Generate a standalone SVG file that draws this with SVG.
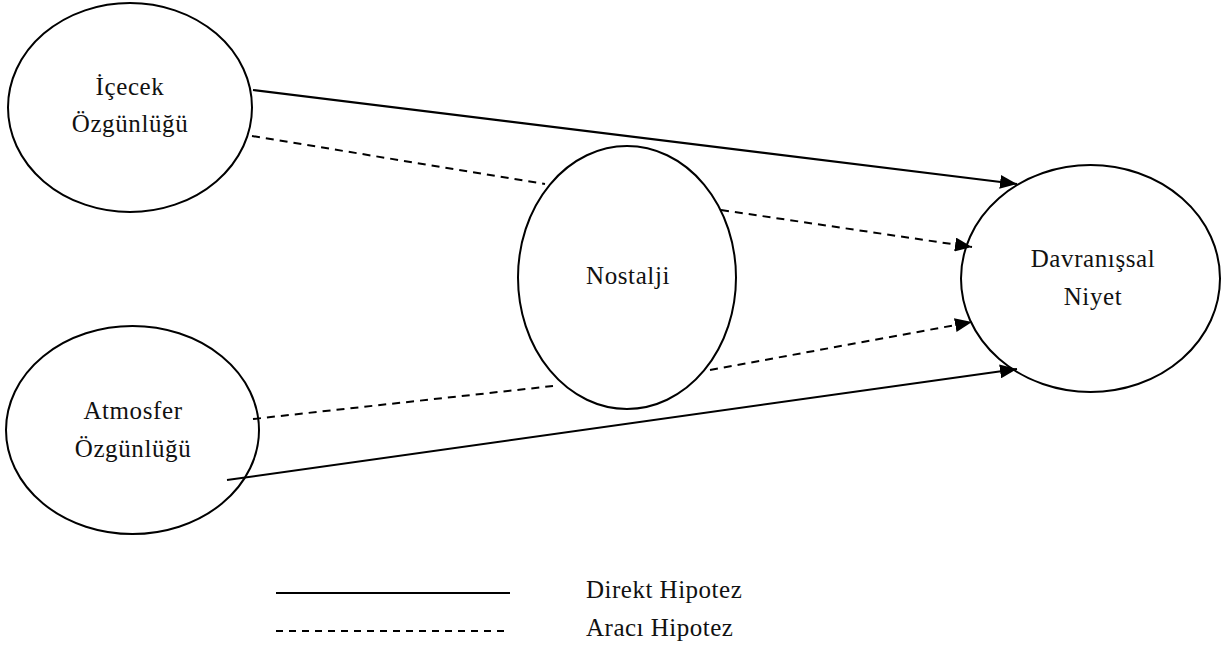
<svg xmlns="http://www.w3.org/2000/svg" width="1222" height="647" viewBox="0 0 1222 647">
  <style>
    .node { fill: #ffffff; stroke: #000000; stroke-width: 2; }
    .label { font-family: "Liberation Serif", "Times New Roman", serif; font-size: 25px; letter-spacing: 0.6px; fill: #111111; text-anchor: middle; }
    .legend { font-family: "Liberation Serif", "Times New Roman", serif; font-size: 25px; letter-spacing: 0.5px; fill: #111111; }
    .direct { stroke: #000000; stroke-width: 2; fill: none; }
    .mediated { stroke: #000000; stroke-width: 2; fill: none; stroke-dasharray: 8 6; }
  </style>
  <defs>
    <marker id="arrow" markerWidth="17" markerHeight="14" refX="17" refY="7" orient="auto" markerUnits="userSpaceOnUse">
      <path d="M0,0 L17,7 L0,14 Z" fill="#000000"/>
    </marker>
  </defs>

  <!-- Nodes -->
  <g id="node-icecek">
    <ellipse class="node" cx="130" cy="107.5" rx="122" ry="104.5"/>
    <text class="label" x="130" y="95">İçecek</text>
    <text class="label" x="130" y="132">Özgünlüğü</text>
  </g>
  <g id="node-atmosfer">
    <ellipse class="node" cx="132.5" cy="430" rx="126.5" ry="104"/>
    <text class="label" x="133" y="419">Atmosfer</text>
    <text class="label" x="133" y="457">Özgünlüğü</text>
  </g>
  <g id="node-nostalji">
    <ellipse class="node" cx="627" cy="277.5" rx="109" ry="131.5"/>
    <text class="label" x="628" y="284">Nostalji</text>
  </g>
  <g id="node-davranissal">
    <ellipse class="node" cx="1090.5" cy="278.5" rx="129.5" ry="113.5"/>
    <text class="label" x="1093" y="267">Davranışsal</text>
    <text class="label" x="1093" y="305">Niyet</text>
  </g>

  <!-- Connectors -->
  <g id="connectors">
    <!-- direct hypotheses -->
    <line class="direct" x1="253" y1="90" x2="1017" y2="184" marker-end="url(#arrow)"/>
    <line class="direct" x1="227" y1="480" x2="1017" y2="369" marker-end="url(#arrow)"/>
    <!-- mediated hypotheses via Nostalji -->
    <line class="mediated" x1="252" y1="136" x2="545" y2="184"/>
    <line class="mediated" x1="721" y1="210" x2="972" y2="247" marker-end="url(#arrow)"/>
    <line class="mediated" x1="253" y1="419" x2="553" y2="386"/>
    <line class="mediated" x1="710" y1="370" x2="972" y2="322" marker-end="url(#arrow)"/>
  </g>

  <!-- Legend -->
  <g id="legend">
    <line class="direct" x1="276" y1="593" x2="510" y2="593"/>
    <line class="mediated" x1="276" y1="631" x2="510" y2="631" style="stroke-dasharray: 7 6"/>
    <text class="legend" x="586" y="598">Direkt Hipotez</text>
    <text class="legend" x="586" y="636">Aracı Hipotez</text>
  </g>
</svg>
